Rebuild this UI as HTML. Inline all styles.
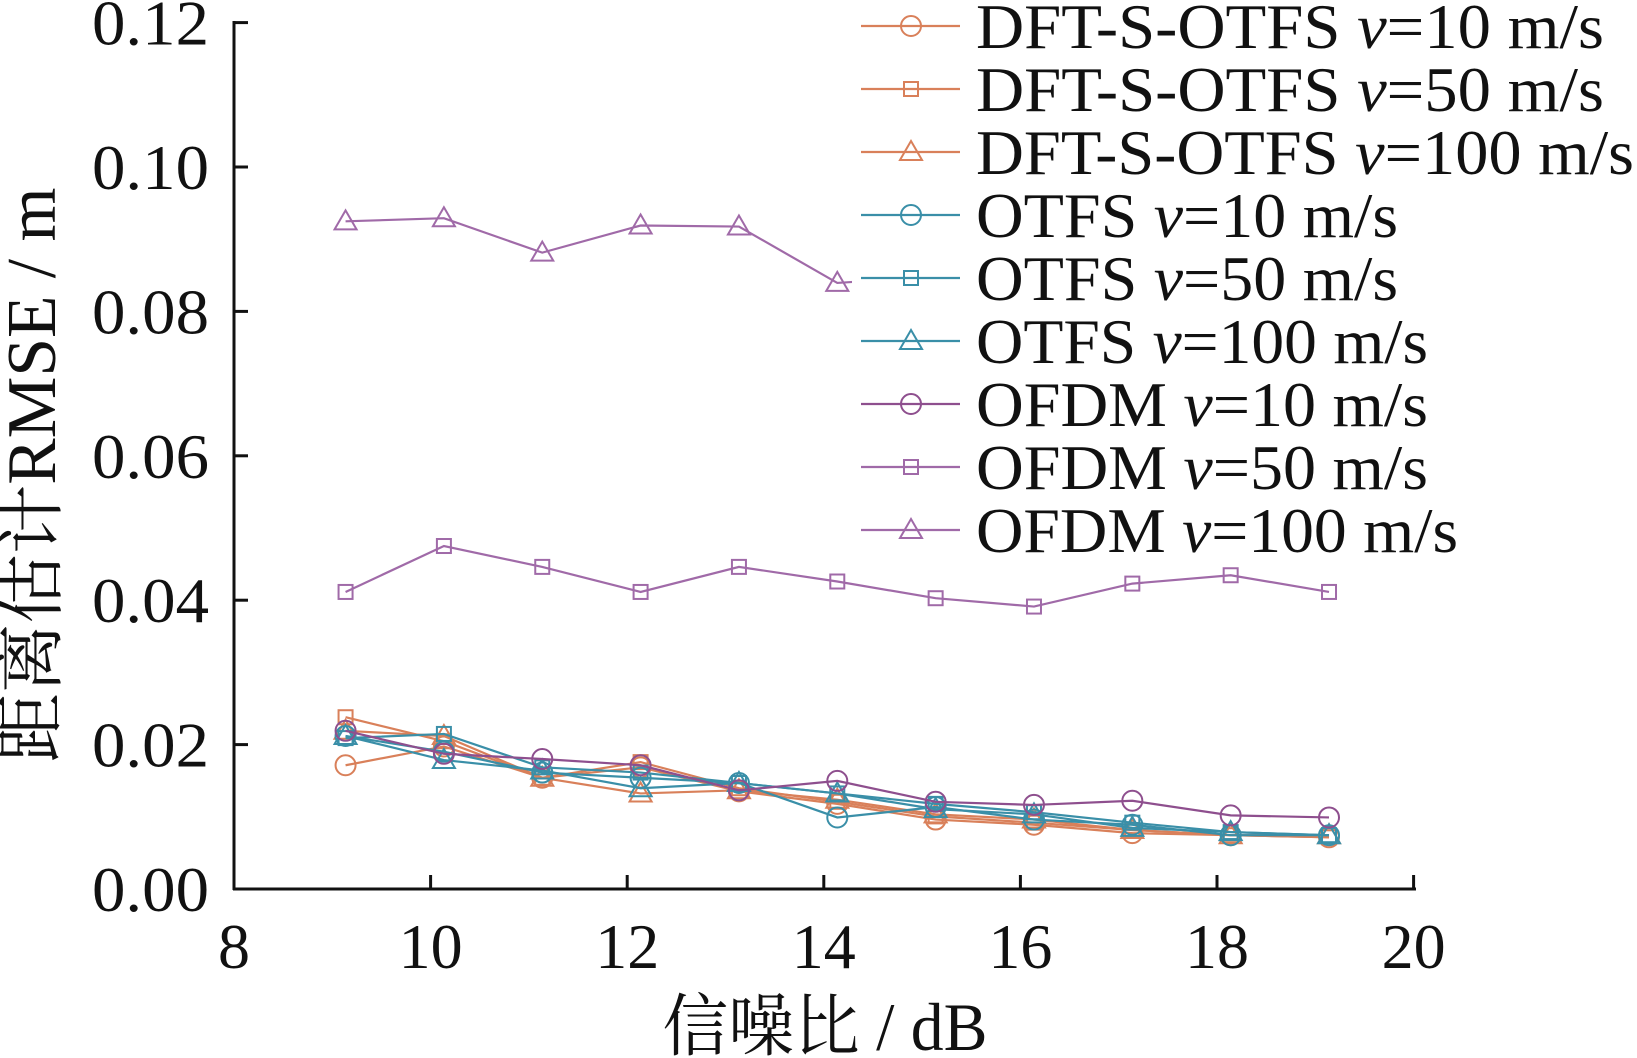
<!DOCTYPE html>
<html><head><meta charset="utf-8"><style>
html,body{margin:0;padding:0;background:#fff;}
svg{display:block;}
text{font-family:"Liberation Serif","Noto Serif CJK SC",serif;fill:#111;}
</style></head><body>
<svg id="s" width="1637" height="1058" viewBox="0 0 1637 1058" xmlns="http://www.w3.org/2000/svg">
<g stroke="#111" stroke-width="3" fill="none">
<line x1="234" y1="21" x2="234" y2="890"/>
<line x1="233" y1="889" x2="1416" y2="889"/>
</g>
<g id="ticks" stroke="#111" stroke-width="3"></g>
<g id="lab" font-size="64"></g>
<text x="0" y="0" font-size="70" text-anchor="middle" transform="translate(55,475) rotate(-90)" textLength="575" lengthAdjust="spacingAndGlyphs">距离估计RMSE / m</text>
<text x="825" y="1050" font-size="68" text-anchor="middle" textLength="325" lengthAdjust="spacingAndGlyphs">信噪比 / dB</text>
<g id="data"></g>
<g id="leg"></g>
</svg>
<script>
var NS="http://www.w3.org/2000/svg",k=1.044;
function el(t,a,p){var e=document.createElementNS(NS,t);for(var q in a)e.setAttribute(q,a[q]);p.appendChild(e);return e;}
var T=document.getElementById('ticks'),L=document.getElementById('lab');
for(var i=0;i<=6;i++){var y=889-i*144.4;el('line',{x1:234,y1:y,x2:248,y2:y},T);
var t=el('text',{x:209,y:y+22,'text-anchor':'end',textLength:117,lengthAdjust:'spacingAndGlyphs'},L);t.textContent=(i*0.02).toFixed(2);}
for(var i=0;i<=6;i++){var x=234+i*196.6;el('line',{x1:x,y1:889,x2:x,y2:875},T);
var t=el('text',{x:x,y:968,'text-anchor':'middle'},L);t.textContent=8+2*i;}
var D=document.getElementById('data');
function mk(type,x,y,c,g,s){s=s||1;
 if(type=='o')el('circle',{cx:x,cy:y,r:10*s,fill:'none',stroke:c,'stroke-width':2},g);
 else if(type=='s')el('rect',{x:x-7*s,y:y-7*s,width:14*s,height:14*s,fill:'none',stroke:c,'stroke-width':2},g);
 else el('polygon',{points:(x)+','+(y-11*s)+' '+(x-11*s)+','+(y+8*s)+' '+(x+11*s)+','+(y+8*s),fill:'none',stroke:c,'stroke-width':2},g);}
var O='#d9805a',B='#3a8fa8',P='#8e4f8e',P2='#a06aa8';
var S=[
['o',O,[733,715,745,735,758,770,785,790,798,800,802]],
['s',O,[687,710,745,730,755,768,782,788,795,800,802]],
['t',O,[700,705,745,760,757,766,780,785,795,800,800]],
['o',B,[705,720,740,745,750,783,773,785,790,800,800]],
['s',B,[707,703,735,740,750,760,770,778,788,797,800]],
['t',B,[705,728,738,755,750,760,775,780,793,797,800]],
['o',P,[700,722,727,733,757,748,768,771,767,781,783]],
['s',P2,[567,523,543,567,543,557,573,581,559,551,567]],
['t',P2,[212,209,242,216,217,271,265,262,258,255,252]]
];
S.forEach(function(s){var pts=s[2].map(function(v,i){return [(331+94.2*i)*k,v*k];});
 el('polyline',{points:pts.map(function(p){return p.join(',')}).join(' '),fill:'none',stroke:s[1],'stroke-width':2.2},D);
 pts.forEach(function(p){mk(s[0],p[0],p[1],s[1],D);});});
var G=document.getElementById('leg');
el('rect',{x:852,y:0,width:785,height:560,fill:'#fff'},G);
var names=['DFT-S-OTFS','DFT-S-OTFS','DFT-S-OTFS','OTFS','OTFS','OTFS','OFDM','OFDM','OFDM'],sp=['10','50','100'];
S.forEach(function(s,i){var y=26+i*63;
 el('line',{x1:861,y1:y,x2:960,y2:y,stroke:s[1],'stroke-width':2.2},G);mk(s[0],911,y,s[1],G);
 var t=el('text',{x:976,y:y+22,'font-size':64},G);
 t.appendChild(document.createTextNode(names[i]+' '));
 var v=el('tspan',{'font-style':'italic'},t);v.textContent='v';
 t.appendChild(document.createTextNode('='+sp[i%3]+' m/s'));
 var w={0:628,1:628,2:658,3:422,4:422,5:452,6:452,7:452,8:482}[i];
 t.setAttribute('textLength',w);t.setAttribute('lengthAdjust','spacingAndGlyphs');
});
</script>
</body></html>
